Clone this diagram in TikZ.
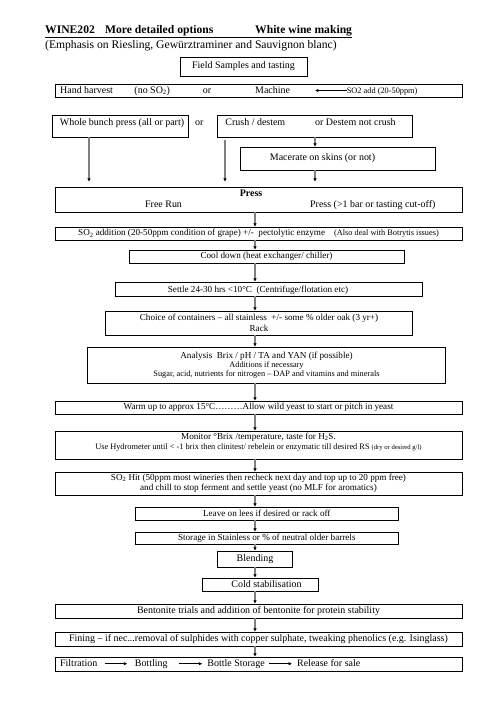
\documentclass[tikz,border=0pt]{standalone}
\usepackage{fontspec}
\setmainfont{Liberation Serif}
\usetikzlibrary{arrows.meta, positioning}

\tikzset{
  stage/.style={rectangle, draw, line width=0.9bp, inner sep=0pt, align=center, font=\fontsize{12}{12.6}\selectfont},
  wh/.style 2 args={minimum width=#1*1.2bp, minimum height=#2*1.2bp},
  txt/.style={inner sep=0pt, text height=8.5bp, text depth=2.5bp, font=\fontsize{12}{12.6}\selectfont},
  flow/.style={draw=black!50, line width=1.4bp, -{Latex[black, length=4bp, width=4.5bp]}},
  thinflow/.style={draw=black, line width=0.7bp, -{Latex[length=4bp, width=4bp]}}
}
\newcommand{\bodytxt}{\fontsize{11}{12.6}\selectfont}
\newcommand{\smalltxt}{\fontsize{10}{11.5}\selectfont}
\newcommand{\tinytxt}{\fontsize{8}{9}\selectfont}

\begin{document}
\begin{tikzpicture}[x=1.2bp, y=-1.2bp]
  \useasboundingbox (0,0) rectangle (496,702);

  % heading
  \node[anchor=base west, inner sep=0pt, font=\fontsize{14}{16}\selectfont\bfseries] (title) at (45,33)
    {\underline{\makebox[72bp][l]{WINE202}\makebox[180bp][l]{More detailed options}White wine making}};
  \node[anchor=west, inner sep=0pt, font=\fontsize{14}{16}\selectfont] (subtitle) at (45,46)
    {(Emphasis on Riesling, Gewürztraminer and Sauvignon blanc)};

  % picking
  \node[stage, wh={127}{19}] (field) at (243.5,66.5) {Field Samples and tasting};
  \node[stage, wh={407}{13}] (harvest) at (258.5,90.5) {};
  \node[txt, anchor=west] (hand) at (60,90.5) {Hand harvest};
  \node[txt, anchor=west] (noso) at (134.3,90.5) {(no SO\textsubscript{2})};
  \node[txt, anchor=west] (oronetxt) at (202.7,90.5) {or};
  \node[txt, anchor=west] (machine) at (255,90.5) {Machine};
  \node[txt, anchor=west, font=\smalltxt] (soadd) at (346.7,90.5) {SO2 add (20-50ppm)};
  \coordinate (machinetip) at (315,90.5);
  \draw[thinflow] (soadd.west) -- (machinetip);

  % crushing / pressing
  \node[stage, wh={136}{22}] (whole) at (120,126) {};
  \node[txt] (wholetxt) at (122,123) {Whole bunch press (all or part)};
  \node[txt, anchor=west] (ortwotxt) at (195,123) {or};
  \node[stage, wh={195}{22}] (crush) at (314.5,126) {};
  \node[txt, anchor=west] (crushtxt) at (225.3,123) {Crush / destem};
  \node[txt, anchor=west] (destemtxt) at (315,123) {or Destem not crush};
  \node[stage, wh={195}{23}] (macerate) at (338,158.5) {};
  \node[txt] (maceratetxt) at (322.5,158) {Macerate on skins (or not)};
  \node[stage, wh={407}{25}] (press) at (258.5,199.5) {};
  \node[txt, font=\fontsize{12}{12.6}\selectfont\bfseries] (presstxt) at (251,193.5) {Press};
  \node[txt, anchor=west] (freerun) at (145,204.5) {Free Run};
  \node[txt, anchor=west] (pressrun) at (310,204.5) {Press (>1 bar or tasting cut-off)};

  \coordinate (leftleg) at (89,0);
  \coordinate (midleg) at (225,0);
  \coordinate (rightleg) at (315,0);
  \draw[flow, shorten >=6bp] (whole.south -| leftleg) -- (press.north -| leftleg);
  \draw[flow, shorten <=3bp, shorten >=6bp] (crush.south -| midleg) -- (press.north -| midleg);
  \draw[flow] (crush.south -| rightleg) -- (macerate.north -| rightleg);
  \draw[flow, shorten >=6bp] (macerate.south -| rightleg) -- (press.north -| rightleg);

  % juice and fermentation
  \node[stage, wh={407}{13}, font=\bodytxt] (sotwo) at (258.5,233.5)
    {SO\textsubscript{2} addition (20-50ppm condition of grape) +/-\ \ pectolytic enzyme\hspace{10.8bp}{\smalltxt(Also deal with Botrytis issues)}};
  \node[stage, wh={275}{13}, font=\bodytxt] (cool) at (266.5,256.5) {Cool down (heat exchanger/ chiller)};
  \node[stage, wh={307}{14}] (settle) at (268.5,289) {};
  \node[txt, font=\bodytxt] (settletxt) at (258,289.5) {Settle 24-30 hrs <10°C\ \ (Centrifuge/flotation etc)};
  \node[stage, wh={307}{24}, font=\bodytxt] (choice) at (259,323)
    {Choice of containers – all stainless\ \ +/- some \% older oak (3 yr+)\\Rack};
  \node[stage, wh={358}{36}, font=\bodytxt] (analysis) at (266.5,365)
    {Analysis\ \ Brix / pH / TA and YAN (if possible)\\[-1.5bp]{\smalltxt Additions if necessary}\\[-1.5bp]{\smalltxt Sugar, acid, nutrients for nitrogen – DAP and vitamins and minerals}};
  \node[stage, wh={407}{13}, font=\bodytxt] (warm) at (258.5,407.5) {Warm up to approx 15°C………Allow wild yeast to start or pitch in yeast};
  \node[stage, wh={407}{28}] (monitor) at (258.5,445) {};
  \node[inner sep=0pt, align=center, font=\bodytxt] (monitortxt) at (258.5,442)
    {Monitor °Brix /temperature, taste for H\textsubscript{2}S.\\[-1bp]{\smalltxt Use Hydrometer until < -1 brix then clinitest/ rebelein or enzymatic till desired RS {\tinytxt(dry or desired g/l)}}};
  \node[stage, wh={407}{23}, font=\bodytxt] (hit) at (258.5,483.5)
    {SO\textsubscript{2} Hit (50ppm most wineries then recheck next day and top up to 20 ppm free)\\and chill to stop ferment and settle yeast (no MLF for aromatics)};

  % finishing
  \node[stage, wh={263}{13}, font=\bodytxt] (lees) at (266.8,513.5) {Leave on lees if desired or rack off};
  \node[stage, wh={263}{12}, font=\bodytxt] (storage) at (266.8,538) {Storage in Stainless or \% of neutral older barrels};
  \node[stage, wh={75}{16}] (blend) at (255,559) {Blending};
  \node[stage, wh={116}{13}] (cold) at (260.5,584.5) {};
  \node[txt] (coldtxt) at (266.5,584.7) {Cold stabilisation};
  \node[stage, wh={407}{14}] (bento) at (258.5,611) {Bentonite trials and addition of bentonite for protein stability};
  \node[stage, wh={407}{14}] (fining) at (258.5,639) {Fining – if nec...removal of sulphides with copper sulphate, tweaking phenolics (e.g. Isinglass)};
  \node[stage, wh={407}{14}] (final) at (258.5,664) {};
  \node[txt, anchor=west] (filtration) at (60,663.7) {Filtration};
  \node[txt, anchor=west] (bottling) at (134.7,663.7) {Bottling};
  \node[txt, anchor=west] (bottlestore) at (207.3,663.7) {Bottle Storage};
  \node[txt, anchor=west] (release) at (297,663.7) {Release for sale};
  \draw[thinflow, shorten <=9bp, shorten >=9bp] (filtration.east) -- (bottling.west);
  \draw[thinflow, shorten <=14bp, shorten >=6bp] (bottling.east) -- (bottlestore.west);
  \draw[thinflow, shorten <=5bp, shorten >=6bp] (bottlestore.east) -- (release.west);

  % main line
  \coordinate (spine) at (255,0);
  \foreach \a/\b in {press/sotwo, sotwo/cool, cool/settle, settle/choice, choice/analysis,
      analysis/warm, warm/monitor, monitor/hit, hit/lees, lees/storage, storage/blend,
      blend/cold, cold/bento, bento/fining, fining/final}
    \draw[flow] (\a.south -| spine) -- (\b.north -| spine);
\end{tikzpicture}
\end{document}
